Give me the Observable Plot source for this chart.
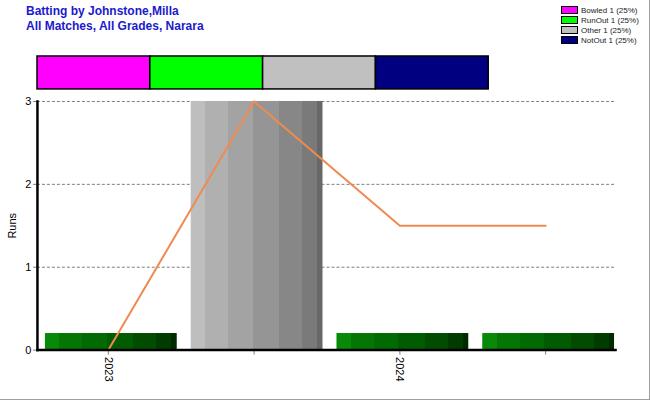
<!DOCTYPE html>
<html>
<head>
<meta charset="utf-8">
<script src="https://cdn.jsdelivr.net/npm/d3@7"></script>
<script src="https://cdn.jsdelivr.net/npm/@observablehq/plot@0.6"></script>
<style>
  html, body { margin: 0; padding: 0; background: #fff; }
  #wrap { position: relative; width: 649px; height: 399px; border-right: 1px solid #a0a0a0; border-bottom: 1px solid #a0a0a0; overflow: hidden; font-family: "Liberation Sans", Arial, sans-serif; }
  #title { position: absolute; left: 26px; top: 4px; color: #1a1acc; font-weight: bold; font-size: 12px; line-height: 15px; }
  #legend { position: absolute; left: 561px; top: 5px; font-size: 8px; color: #222; }
  #legend .row { display: flex; align-items: center; height: 10px; }
  #legend .sw { width: 15px; height: 6px; border: 1px solid #000; margin-right: 3px; }
  #dism { position: absolute; left: 0; top: 50px; }
  #main { position: absolute; left: 0; top: 90px; }
</style>
</head>
<body>
<div id="wrap">
  <div id="title"></div>
  <div id="legend"></div>
  <div id="dism"></div>
  <div id="main"></div>
</div>
<script>
// ---- data ----
const titleLines = ["Batting by Johnstone,Milla", "All Matches, All Grades, Narara"];
const dismissalTypes = ["Bowled", "RunOut", "Other", "NotOut"];
const dismissalCounts = [1, 1, 1, 1];
const dismissalPct = ["25%", "25%", "25%", "25%"];
const dismissalColors = ["#ff00ff", "#00ff00", "#c0c0c0", "#000080"];

const matches = ["m1", "m2", "m3", "m4"];
const tickLabels = ["2023", "", "2024", ""];
const barHeights = [0.2, 3, 0.2, 0.2];
const barKinds = ["green", "grey", "green", "green"];
const lineValues = [0, 3, 1.5, 1.5];
const yTicks = [0, 1, 2, 3];

// gradient stripes
const stripeStops = [0, 0.11, 0.285, 0.47, 0.67, 0.845, 0.96, 1];
const greenStripes = ["#078a07", "#037603", "#026a02", "#015c01", "#014c01", "#003c00", "#002a00"];
const greyStripes = ["#bebebe", "#b0b0b0", "#a3a3a3", "#959595", "#878787", "#7a7a7a", "#686868"];

// ---- title ----
document.getElementById("title").innerHTML = titleLines.map(t => `<div>${t}</div>`).join("");

// ---- legend ----
document.getElementById("legend").innerHTML = dismissalTypes.map((t, i) =>
  `<div class="row"><div class="sw" style="background:${dismissalColors[i]}"></div><span>${t} ${dismissalCounts[i]} (${dismissalPct[i]})</span></div>`
).join("");

// ---- dismissal bar ----
const dismData = dismissalTypes.map((t, i) => ({type: t, n: dismissalCounts[i], color: dismissalColors[i]}));
const dism = Plot.plot({
  width: 650, height: 45,
  marginTop: 6, marginBottom: 6, marginLeft: 37, marginRight: 161,
  x: {domain: [0, d3.sum(dismissalCounts)], axis: null},
  color: {type: "identity"},
  marks: [
    Plot.barX(dismData, Plot.stackX({x: "n", fill: "color", stroke: "#000", strokeWidth: 1.5, order: null}))
  ]
});
document.getElementById("dism").appendChild(dism);

// ---- main chart ----
const data = matches.map((m, i) => ({m, h: barHeights[i], kind: barKinds[i], v: lineValues[i]}));
const main = Plot.plot({
  width: 650, height: 310,
  marginTop: 11, marginBottom: 50, marginLeft: 37, marginRight: 34,
  style: {fontFamily: "'Liberation Sans', Arial, sans-serif", fontSize: "11px", color: "#000"},
  x: {type: "band", domain: matches, range: [34, 620], paddingInner: 0.093, paddingOuter: 0.0465, axis: null},
  y: {domain: [0, 3], axis: null},
  marks: [
    Plot.gridY(yTicks, {stroke: "#808080", strokeOpacity: 1, strokeDasharray: "3,2"}),
    Plot.barY(data, {filter: d => d.kind === "green", x: "m", y: "h", fill: "url(#gGreen)", dx: 3}),
    Plot.barY(data, {filter: d => d.kind === "grey", x: "m", y: "h", fill: "url(#gGrey)", dx: 3}),
    Plot.line(data, {x: "m", y: "v", stroke: "#ef8a50", strokeWidth: 2}),
    Plot.axisY({ticks: yTicks, tickFormat: d3.format("d"), tickSize: 4, tickPadding: 2, stroke: "#808080", fill: "#000",
      label: "Runs", labelAnchor: "center", labelArrow: "none", labelOffset: 29, labelDy: 5}),
    Plot.axisX({tickFormat: (d) => tickLabels[matches.indexOf(d)], tickRotate: 90, tickSize: 5, tickPadding: 2, stroke: "#808080", fill: "#000", label: null}),
    Plot.frame({anchor: "left", stroke: "#000", strokeWidth: 2.5}),
    Plot.frame({anchor: "bottom", stroke: "#000", strokeWidth: 2.5})
  ]
});
const defs = d3.select(main).insert("defs", ":first-child");
function addGrad(id, colors) {
  const g = defs.append("linearGradient").attr("id", id).attr("x1", 0).attr("x2", 1).attr("y1", 0).attr("y2", 0);
  colors.forEach((c, i) => {
    g.append("stop").attr("offset", stripeStops[i]).attr("stop-color", c);
    g.append("stop").attr("offset", stripeStops[i + 1]).attr("stop-color", c);
  });
}
addGrad("gGreen", greenStripes);
addGrad("gGrey", greyStripes);
document.getElementById("main").appendChild(main);
</script>
</body>
</html>
